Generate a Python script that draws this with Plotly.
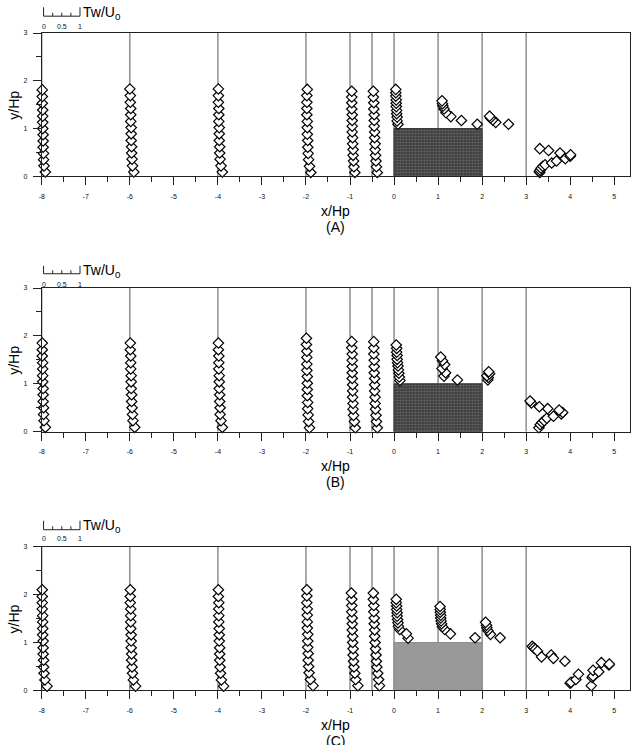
import plotly.graph_objects as go

# ---------------- data (x/Hp, y/Hp of every measured point) ----------------
STATIONS = [-8, -6, -4, -2, -1, -0.5, 0, 1, 2, 3]
BLOCK_X = [0, 2]      # obstacle extent in x/Hp
BLOCK_H = 1           # obstacle height in y/Hp
PANEL_LABELS = ["(A)", "(B)", "(C)"]
X_TICKS = [-8, -7, -6, -5, -4, -3, -2, -1, 0, 1, 2, 3, 4, 5]
Y_TICKS = [0, 1, 2, 3]
SCALE_TICKS = [0, 0.25, 0.5, 0.75, 1]
SCALE_LABELS = ["0", "0.5", "1"]
SCALE_LABEL_VALUES = [0, 0.5, 1]

# Panel A
A_X = ([-7.92, -7.95, -7.96, -7.96, -7.97, -7.97, -7.97, -7.98, -7.98, -7.98, -7.98, -7.99, -7.99, -7.99]
       + [-5.91, -5.94, -5.95, -5.96, -5.96, -5.97, -5.97, -5.97, -5.98, -5.98, -5.98, -5.99, -5.99, -6.00]
       + [-3.90, -3.93, -3.95, -3.96, -3.96, -3.97, -3.97, -3.97, -3.98, -3.98, -3.98, -3.99, -3.99, -3.99]
       + [-1.89, -1.92, -1.94, -1.95, -1.96, -1.96, -1.97, -1.97, -1.97, -1.98, -1.98, -1.98, -1.98, -1.97]
       + [-0.89, -0.91, -0.92, -0.93, -0.93, -0.94, -0.94, -0.95, -0.95, -0.95, -0.95, -0.96, -0.96, -0.96, -0.96]
       + [-0.38, -0.40, -0.41, -0.42, -0.43, -0.43, -0.44, -0.44, -0.45, -0.45, -0.45, -0.46, -0.46, -0.47, -0.47]
       + [0.09, 0.07, 0.07, 0.06, 0.06, 0.05, 0.05, 0.05, 0.04, 0.04, 0.04]
       + [1.89, 1.53, 1.29, 1.18, 1.135, 1.11, 1.10, 1.09]
       + [2.60, 2.31, 2.24, 2.19, 2.17]
       + [3.31, 3.30, 3.32, 3.34, 3.38, 3.43, 3.58, 3.69, 3.89, 4.00, 4.01, 3.77, 3.51, 3.31])
A_Y = ([0.09, 0.22, 0.35, 0.48, 0.61, 0.74, 0.87, 1.00, 1.13, 1.26, 1.39, 1.53, 1.67, 1.81]
       + [0.09, 0.22, 0.36, 0.49, 0.62, 0.75, 0.89, 1.02, 1.15, 1.29, 1.42, 1.55, 1.69, 1.83]
       + [0.09, 0.22, 0.36, 0.49, 0.62, 0.75, 0.89, 1.02, 1.15, 1.29, 1.42, 1.55, 1.69, 1.83]
       + [0.08, 0.21, 0.35, 0.48, 0.61, 0.75, 0.88, 1.02, 1.15, 1.29, 1.42, 1.55, 1.69, 1.82]
       + [0.08, 0.20, 0.32, 0.44, 0.56, 0.68, 0.81, 0.93, 1.05, 1.17, 1.29, 1.41, 1.54, 1.66, 1.78]
       + [0.08, 0.20, 0.32, 0.44, 0.56, 0.68, 0.81, 0.93, 1.05, 1.17, 1.29, 1.41, 1.54, 1.66, 1.78]
       + [1.09, 1.16, 1.24, 1.31, 1.38, 1.46, 1.53, 1.60, 1.68, 1.75, 1.82]
       + [1.09, 1.17, 1.25, 1.33, 1.41, 1.47, 1.52, 1.58]
       + [1.09, 1.13, 1.18, 1.22, 1.26]
       + [0.08, 0.10, 0.13, 0.17, 0.21, 0.24, 0.28, 0.32, 0.37, 0.42, 0.45, 0.49, 0.54, 0.58])

# Panel B
B_X = ([-7.92, -7.95, -7.96, -7.96, -7.97, -7.97, -7.97, -7.98, -7.98, -7.98, -7.98, -7.99, -7.99, -7.99]
       + [-5.89, -5.93, -5.94, -5.95, -5.96, -5.96, -5.97, -5.97, -5.97, -5.98, -5.98, -5.98, -5.99, -5.99]
       + [-3.90, -3.93, -3.95, -3.95, -3.96, -3.96, -3.97, -3.97, -3.97, -3.98, -3.98, -3.98, -3.99, -3.99]
       + [-1.92, -1.94, -1.95, -1.96, -1.96, -1.97, -1.97, -1.97, -1.97, -1.98, -1.98, -1.98, -1.98, -1.99, -1.99]
       + [-0.88, -0.90, -0.92, -0.93, -0.93, -0.94, -0.94, -0.94, -0.95, -0.95, -0.95, -0.95, -0.95, -0.96, -0.96]
       + [-0.38, -0.40, -0.41, -0.42, -0.43, -0.43, -0.44, -0.44, -0.44, -0.45, -0.45, -0.45, -0.46, -0.46, -0.46]
       + [0.135, 0.12, 0.11, 0.10, 0.09, 0.08, 0.07, 0.07, 0.06, 0.06, 0.05]
       + [1.44, 1.135, 1.17, 1.09, 1.15, 1.10, 1.06]
       + [2.13, 2.14, 2.11, 2.17, 2.15]
       + [3.29, 3.32, 3.36, 3.41, 3.47, 3.62, 3.80, 3.83, 3.75, 3.49, 3.30, 3.12, 3.09])
B_Y = ([0.09, 0.23, 0.36, 0.50, 0.63, 0.77, 0.90, 1.04, 1.17, 1.31, 1.44, 1.58, 1.71, 1.85]
       + [0.09, 0.23, 0.36, 0.50, 0.63, 0.77, 0.90, 1.04, 1.17, 1.31, 1.44, 1.58, 1.71, 1.85]
       + [0.09, 0.23, 0.36, 0.50, 0.63, 0.77, 0.90, 1.04, 1.17, 1.31, 1.44, 1.58, 1.71, 1.85]
       + [0.08, 0.21, 0.35, 0.48, 0.61, 0.75, 0.88, 1.01, 1.15, 1.28, 1.41, 1.55, 1.68, 1.82, 1.95]
       + [0.08, 0.21, 0.34, 0.47, 0.59, 0.72, 0.85, 0.98, 1.11, 1.23, 1.36, 1.49, 1.62, 1.75, 1.88]
       + [0.08, 0.21, 0.34, 0.47, 0.59, 0.72, 0.85, 0.98, 1.11, 1.23, 1.36, 1.49, 1.62, 1.75, 1.88]
       + [1.07, 1.14, 1.22, 1.29, 1.37, 1.44, 1.51, 1.59, 1.66, 1.74, 1.81]
       + [1.08, 1.16, 1.23, 1.32, 1.40, 1.48, 1.56]
       + [1.08, 1.13, 1.17, 1.21, 1.25]
       + [0.08, 0.145, 0.19, 0.23, 0.28, 0.32, 0.37, 0.40, 0.45, 0.48, 0.52, 0.60, 0.64])

# Panel C
C_X = ([-7.88, -7.93, -7.95, -7.96, -7.96, -7.97, -7.97, -7.97, -7.98, -7.98, -7.98, -7.98, -7.99, -7.99, -7.99, -7.99]
       + [-5.87, -5.92, -5.94, -5.95, -5.96, -5.96, -5.97, -5.97, -5.97, -5.98, -5.98, -5.98, -5.98, -5.99, -5.99, -5.99]
       + [-3.87, -3.92, -3.94, -3.95, -3.96, -3.96, -3.96, -3.97, -3.97, -3.97, -3.98, -3.98, -3.98, -3.98, -3.99, -3.99]
       + [-1.84, -1.90, -1.93, -1.94, -1.95, -1.95, -1.96, -1.96, -1.96, -1.97, -1.97, -1.97, -1.97, -1.98, -1.98, -1.98]
       + [-0.82, -0.87, -0.89, -0.91, -0.92, -0.93, -0.93, -0.94, -0.94, -0.95, -0.95, -0.95, -0.96, -0.96, -0.96, -0.97]
       + [-0.33, -0.35, -0.37, -0.39, -0.40, -0.41, -0.42, -0.43, -0.44, -0.44, -0.45, -0.45, -0.46, -0.46, -0.47, -0.47]
       + [0.32, 0.28, 0.13, 0.10, 0.09, 0.08, 0.07, 0.07, 0.06, 0.06, 0.05, 0.05]
       + [1.84, 1.28, 1.15, 1.10, 1.08, 1.07, 1.06, 1.06, 1.05, 1.05, 1.045]
       + [2.41, 2.19, 2.13, 2.11, 2.10, 2.08]
       + [3.14, 3.17, 3.21, 3.26, 3.35, 3.57, 3.62, 3.88, 4.00, 4.02, 4.13, 4.19, 4.48, 4.50, 4.52, 4.52, 4.65, 4.71, 4.88, 4.89])
C_Y = ([0.09, 0.22, 0.36, 0.49, 0.63, 0.76, 0.89, 1.03, 1.16, 1.29, 1.43, 1.56, 1.70, 1.83, 1.96, 2.10]
       + [0.09, 0.22, 0.36, 0.49, 0.63, 0.76, 0.89, 1.03, 1.16, 1.29, 1.43, 1.56, 1.70, 1.83, 1.96, 2.10]
       + [0.09, 0.22, 0.36, 0.49, 0.63, 0.76, 0.89, 1.03, 1.16, 1.29, 1.43, 1.56, 1.70, 1.83, 1.96, 2.10]
       + [0.10, 0.23, 0.37, 0.50, 0.63, 0.77, 0.90, 1.03, 1.17, 1.30, 1.43, 1.57, 1.70, 1.83, 1.97, 2.10]
       + [0.10, 0.23, 0.36, 0.49, 0.61, 0.74, 0.87, 1.00, 1.13, 1.26, 1.39, 1.51, 1.64, 1.77, 1.90, 2.03]
       + [0.10, 0.23, 0.36, 0.49, 0.61, 0.74, 0.87, 1.00, 1.13, 1.26, 1.39, 1.51, 1.64, 1.77, 1.90, 2.03]
       + [1.09, 1.18, 1.27, 1.34, 1.41, 1.48, 1.55, 1.62, 1.69, 1.76, 1.83, 1.90]
       + [1.10, 1.18, 1.27, 1.33, 1.39, 1.45, 1.51, 1.57, 1.63, 1.69, 1.75]
       + [1.10, 1.17, 1.25, 1.31, 1.36, 1.42]
       + [0.92, 0.89, 0.86, 0.82, 0.70, 0.74, 0.67, 0.61, 0.15, 0.17, 0.23, 0.34, 0.10, 0.27, 0.30, 0.42, 0.39, 0.58, 0.53, 0.55])

PANEL_X = [A_X, B_X, C_X]
PANEL_Y = [A_Y, B_Y, C_Y]

# ---------------- layout / style ----------------
W, H = 634, 745
FONT = "Liberation Sans, Arial, sans-serif"
X_RANGE = [-8, 5.36]
X_DOMAIN = [39 / W, 630 / W]
PANEL_TOP_PX = [29.3, 286.7, 547.7]
PANEL_BOT_PX = [174.0, 431.7, 693.0]
# scale bar placement (pixels from top of page)
BAR_BOTTOM_PX = [12.3, 272.3, 530.7]
BAR_TOP_PX = [3.3, 264.3, 521.7]
BAR_LABEL_PX = [22.7, 282.7, 540.0]
SCALE_ORIGIN = -7.96
SCALE_UNIT = 0.827   # x/Hp length of Tw/U0 = 1


def py(p):
    return 1 - p / H


fig = go.Figure()
shapes = []
annotations = []
axcol = "#222222"
linecol = "#555555"
tickcol = "#111111"

for i in range(3):
    sfx = "" if i == 0 else str(i + 1)
    xa, ya = "x" + sfx, "y" + sfx
    # station lines
    for s in STATIONS:
        shapes.append(dict(type="line", xref=xa, yref=ya, x0=s, x1=s, y0=0, y1=3,
                           line=dict(color=linecol, width=1), layer="below"))
    # obstacle block
    bx = [BLOCK_X[0], BLOCK_X[1], BLOCK_X[1], BLOCK_X[0], BLOCK_X[0]]
    by = [0, 0, BLOCK_H, BLOCK_H, 0]
    if i < 2:
        fig.add_trace(go.Scatter(x=bx, y=by, xaxis=xa, yaxis=ya, mode="lines", fill="toself",
                                 fillcolor="#3c3c3c",
                                 fillpattern=dict(shape=".", fgcolor="#9a9a9a", bgcolor="#3c3c3c",
                                                  size=3, solidity=0.35),
                                 line=dict(color="#333333", width=1), hoverinfo="skip",
                                 showlegend=False))
    else:
        fig.add_trace(go.Scatter(x=bx, y=by, xaxis=xa, yaxis=ya, mode="lines", fill="toself",
                                 fillcolor="#999999", line=dict(color="#8c8c8c", width=1),
                                 hoverinfo="skip", showlegend=False))
    # profile points
    fig.add_trace(go.Scatter(x=PANEL_X[i], y=PANEL_Y[i], xaxis=xa, yaxis=ya, mode="markers",
                             marker=dict(symbol="diamond", size=8, color="white",
                                         line=dict(color="black", width=1.2)),
                             showlegend=False, cliponaxis=False))

    top, bot = py(PANEL_TOP_PX[i]), py(PANEL_BOT_PX[i])
    common = dict(showgrid=False, zeroline=False, showline=True, linecolor=axcol, linewidth=1,
                  mirror=True, ticks="outside", tickcolor=axcol, ticklen=8, tickwidth=1,
                  tickfont=dict(family=FONT, size=7, color=tickcol))
    fig.layout["xaxis" + sfx] = dict(common, domain=X_DOMAIN, range=X_RANGE, anchor=ya,
                                     tickvals=X_TICKS, ticktext=[str(v) for v in X_TICKS],
                                     ticklabelstandoff=5,
                                     minor=dict(dtick=0.5, tick0=0, ticks="outside", ticklen=5,
                                                tickcolor=axcol))
    fig.layout["yaxis" + sfx] = dict(common, domain=[bot, top], range=[0, 3], anchor=xa,
                                     tickvals=Y_TICKS, ticktext=[str(v) for v in Y_TICKS],
                                     ticklabelstandoff=4,
                                     minor=dict(dtick=0.5, tick0=0, ticks="outside", ticklen=5,
                                                tickcolor=axcol))

    # axis titles / panel label
    xmid = (X_DOMAIN[0] + X_DOMAIN[1]) / 2
    annotations.append(dict(text="x/Hp", xref="paper", yref="paper", x=xmid,
                            y=py(PANEL_BOT_PX[i] + 35), xanchor="center", yanchor="middle",
                            showarrow=False, font=dict(family=FONT, size=14, color="black")))
    annotations.append(dict(text=PANEL_LABELS[i], xref="paper", yref="paper", x=xmid,
                            y=py(PANEL_BOT_PX[i] + 51), xanchor="center", yanchor="middle",
                            showarrow=False, font=dict(family=FONT, size=14, color="black")))
    annotations.append(dict(text="y/Hp", xref="paper", yref="paper", x=11 / W,
                            y=(top + bot) / 2, xanchor="center", yanchor="middle", textangle=-90,
                            showarrow=False, font=dict(family=FONT, size=14, color="black")))

    # Tw/U0 scale bar
    yb, yt = py(BAR_BOTTOM_PX[i]), py(BAR_TOP_PX[i])
    yin = py(BAR_BOTTOM_PX[i] - 3.5)
    x_end = SCALE_ORIGIN + SCALE_UNIT * SCALE_TICKS[-1]
    shapes.append(dict(type="line", xref=xa, yref="paper", x0=SCALE_ORIGIN, x1=x_end,
                       y0=yb, y1=yb, line=dict(color=axcol, width=1)))
    for k, t in enumerate(SCALE_TICKS):
        xv = SCALE_ORIGIN + SCALE_UNIT * t
        ytop = yt if k in (0, len(SCALE_TICKS) - 1) else yin
        shapes.append(dict(type="line", xref=xa, yref="paper", x0=xv, x1=xv, y0=yb, y1=ytop,
                           line=dict(color=axcol, width=1)))
    for lab, v in zip(SCALE_LABELS, SCALE_LABEL_VALUES):
        annotations.append(dict(text=lab, xref=xa, yref="paper", x=SCALE_ORIGIN + SCALE_UNIT * v,
                                y=py(BAR_LABEL_PX[i]), xanchor="center", yanchor="middle",
                                showarrow=False, font=dict(family=FONT, size=7, color=tickcol)))
    annotations.append(dict(text="Tw/U<sub>0</sub>", xref=xa, yref="paper", x=x_end + 0.03,
                            y=py((BAR_TOP_PX[i] + BAR_BOTTOM_PX[i]) / 2 + 1), xanchor="left",
                            yanchor="middle", showarrow=False,
                            font=dict(family=FONT, size=14, color="black")))

fig.update_layout(width=W, height=H, margin=dict(l=0, r=0, t=0, b=0),
                  paper_bgcolor="white", plot_bgcolor="white",
                  shapes=shapes, annotations=annotations, showlegend=False)

fig.write_html("out.html")
